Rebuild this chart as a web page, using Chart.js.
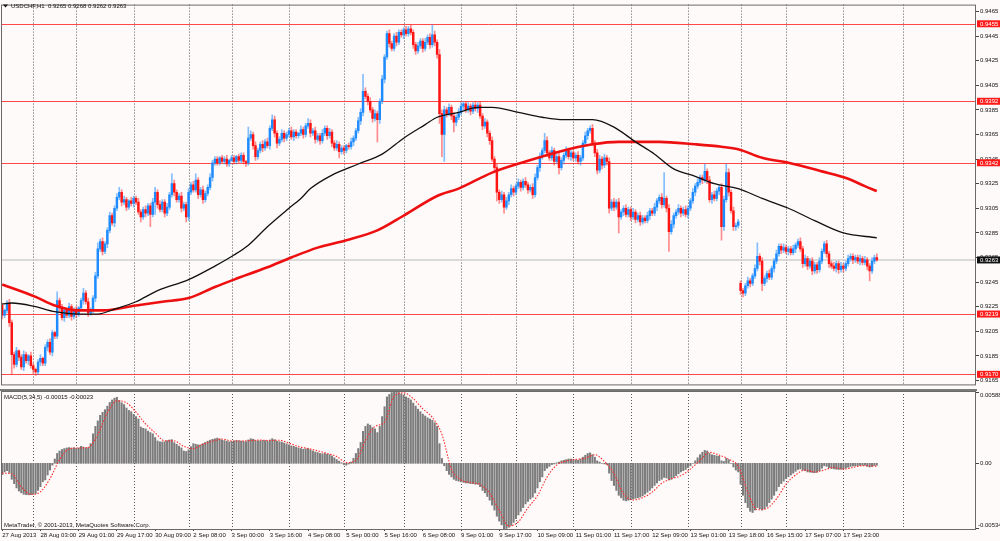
<!DOCTYPE html>
<html>
<head>
<meta charset="utf-8">
<title>USDCHF,H1</title>
<script src="https://cdn.jsdelivr.net/npm/chart.js@4.4.1/dist/chart.umd.min.js"></script>
<style>
  html, body { margin: 0; padding: 0; background: #fffafa; }
  #wrap { position: relative; width: 1000px; height: 541px; overflow: hidden; background: #fffafa; }
  canvas { position: absolute; left: 0; }
  #priceChart { top: 0; }
  #macdChart { top: 389px; }
</style>
</head>
<body>
<div id="wrap">
  <canvas id="priceChart" width="1000" height="389"></canvas>
  <canvas id="macdChart" width="1000" height="152"></canvas>
</div>
<script>
// USDCHF H1, 27 Aug - 18 Sep 2013, two moving averages, MACD(5,34,5) below

const SLOTS = 408;        // bar slots across the window (empty space on the right)
const LABEL_EVERY = 16;   // one time label every 16 bars

const tickLabels = [
	"27 Aug 2013", "28 Aug 03:00", "29 Aug 01:00", "29 Aug 17:00", "30 Aug 09:00",
	"2 Sep 08:00", "3 Sep 00:00", "3 Sep 16:00", "4 Sep 08:00", "5 Sep 00:00",
	"5 Sep 16:00", "6 Sep 08:00", "9 Sep 01:00", "9 Sep 17:00", "10 Sep 09:00",
	"11 Sep 01:00", "11 Sep 17:00", "12 Sep 09:00", "13 Sep 01:00", "13 Sep 18:00",
	"16 Sep 15:00", "17 Sep 07:00", "17 Sep 23:00"
];
// first bar of each day (dotted separators)
const dayStarts = [13, 31, 55, 78, 96, 120, 143, 168, 192, 215, 239, 263, 287, 309, 328, 352, 377];

const priceTicks = [0.9165, 0.9185, 0.9205, 0.9225, 0.9245, 0.9265, 0.9285, 0.9305,
	0.9325, 0.9345, 0.9365, 0.9385, 0.9405, 0.9425, 0.9445, 0.9465];
const levels = [0.9455, 0.9392, 0.9342, 0.9219, 0.9170];
const lastPrice = 0.9263;
const macdTicks = [0.00588, 0, -0.00534];

// prices in 1/10000
const closes = [
	9218,9222,9228,9212,9186,9178,9189,9184,9176,9186,
	9181,9185,9177,9174,9172,9180,9183,9179,9192,9196,
	9188,9204,9201,9230,9224,9216,9222,9218,9225,9217,
	9222,9219,9224,9230,9236,9229,9220,9222,9232,9250,
	9272,9278,9270,9276,9287,9299,9293,9305,9314,9318,
	9310,9312,9306,9311,9309,9313,9310,9302,9298,9304,
	9301,9307,9300,9310,9318,9308,9304,9310,9301,9306,
	9316,9325,9318,9312,9315,9305,9308,9298,9318,9324,
	9320,9328,9316,9320,9312,9317,9322,9330,9342,9345,
	9342,9346,9343,9345,9341,9344,9346,9343,9347,9344,
	9348,9343,9342,9362,9365,9356,9347,9352,9357,9354,
	9359,9356,9370,9377,9366,9358,9361,9366,9362,9365,
	9368,9363,9367,9364,9366,9369,9365,9372,9374,9366,
	9368,9361,9364,9360,9366,9370,9364,9367,9358,9354,
	9357,9351,9354,9352,9356,9355,9359,9362,9368,9376,
	9383,9400,9396,9392,9385,9378,9382,9377,9392,9410,
	9428,9447,9439,9435,9445,9440,9448,9446,9450,9447,
	9451,9448,9438,9433,9437,9441,9435,9440,9444,9438,
	9446,9440,9430,9382,9365,9385,9382,9387,9380,9375,
	9379,9383,9388,9390,9385,9388,9384,9389,9386,9389,
	9380,9372,9375,9366,9360,9345,9338,9318,9312,9316,
	9306,9311,9316,9321,9318,9323,9326,9322,9327,9324,
	9320,9322,9316,9330,9338,9347,9352,9360,9350,9346,
	9352,9343,9347,9338,9344,9348,9352,9347,9350,9346,
	9348,9343,9346,9358,9364,9368,9370,9358,9350,9336,
	9345,9340,9346,9343,9305,9310,9306,9310,9298,9302,
	9305,9300,9304,9298,9302,9296,9299,9294,9297,9295,
	9299,9303,9301,9306,9311,9314,9308,9313,9305,9286,
	9292,9299,9302,9305,9301,9304,9300,9305,9311,9318,
	9323,9326,9330,9328,9335,9328,9312,9316,9313,9319,
	9322,9290,9312,9334,9318,9303,9290,9291,9294,9238,
	9236,9242,9246,9244,9250,9256,9266,9262,9244,9248,
	9252,9249,9256,9262,9268,9274,9271,9273,9270,9272,
	9269,9272,9275,9278,9272,9260,9264,9258,9262,9254,
	9259,9255,9262,9270,9276,9268,9260,9258,9256,9260,
	9255,9258,9256,9260,9264,9266,9263,9265,9262,9264,
	9261,9263,9258,9254,9262,9265,9263
];
// shadow lengths above / below the body, in pips
const wickUp = [
	2,1,2,3,2,2,3,1,2,3, 2,1,3,2,1,2,3,1,2,2, 3,2,1,7,2,3,2,1,3,2, 2,3,1,2,4,2,3,2,2,3,
	5,2,3,2,2,3,2,2,3,4, 2,3,2,1,3,2,2,3,2,2, 3,2,2,3,4,2,3,2,2,3, 2,8,3,2,2,3,2,2,3,2,
	3,5,2,2,3,2,2,3,2,2, 2,1,2,2,3,1,2,2,1,2, 2,2,1,9,3,2,3,2,2,3, 2,3,2,4,3,2,2,3,2,2,
	2,3,2,2,1,3,2,2,4,3, 2,3,2,2,3,2,2,3,2,2, 3,2,2,2,1,2,3,2,2,3, 3,14,3,2,3,2,3,2,2,3,
	2,2,3,2,2,3,2,2,2,3, 2,3,2,2,3,2,2,3,2,3, 8,3,2,4,3,3,2,3,2,3, 2,3,3,2,2,3,2,2,3,2,
	3,2,3,2,2,3,2,3,2,3, 2,3,2,3,2,2,3,2,2,3, 2,2,3,3,2,3,2,6,3,2, 3,2,2,3,2,2,3,2,2,2,
	2,3,2,2,3,2,2,3,2,3, 3,2,3,2,3,2,3,2,3,2, 2,3,2,2,3,2,2,3,2,2, 3,2,2,3,2,2,3,21,2,3,
	3,2,2,3,2,2,3,2,2,3, 2,3,2,2,6,2,3,2,3,2, 2,3,3,7,3,2,3,2,2,2, 2,2,3,2,2,3,11,2,3,2,
	2,3,2,2,3,2,2,3,2,2, 2,3,2,2,3,2,3,2,2,3, 2,2,3,2,2,3,2,2,3,2, 2,3,2,2,3,2,2,2,2,3,
	2,3,2,2,3,2,3
];
const wickDown = [
	3,2,2,3,16,3,2,3,2,3, 2,3,2,3,3,2,3,2,2,3, 2,3,2,2,3,2,3,2,2,3, 2,3,2,2,3,2,3,2,2,3,
	2,2,3,2,3,2,2,3,2,2, 3,2,3,2,2,3,2,2,4,2, 3,2,10,2,10,3,2,2,3,2, 2,2,3,2,2,3,2,4,3,2,
	2,2,3,2,3,2,2,2,3,2, 2,2,1,2,2,2,1,2,2,2, 2,2,3,2,2,3,3,2,2,3, 2,2,3,2,3,4,2,2,3,2,
	2,2,3,2,2,2,3,2,2,3, 2,3,2,3,2,2,3,2,3,2, 2,5,2,3,2,2,2,3,2,2, 3,3,2,3,2,3,2,18,3,2,
	3,2,3,2,2,3,2,2,3,2, 2,2,3,3,2,2,3,2,2,3, 2,3,3,8,18,22,3,2,3,8, 3,2,2,3,2,2,3,2,2,3,
	2,3,2,3,3,2,3,7,3,2, 5,2,3,2,3,2,2,3,2,2, 3,2,3,2,2,3,2,2,3,2, 2,3,2,5,2,3,2,2,3,2,
	3,2,3,2,2,3,2,2,3,3, 2,3,2,3,4,2,3,2,13,2, 3,2,2,3,2,3,2,3,2,2, 2,3,2,2,3,2,3,2,3,16,
	2,3,2,2,3,2,2,3,2,2, 3,2,2,3,2,3,2,3,2,2, 3,11,3,2,3,2,3,3,2,3, 3,2,2,3,2,2,2,3,6,2,
	3,2,2,3,2,2,3,2,2,3, 2,2,3,2,2,3,2,3,2,3, 2,3,2,2,2,3,3,2,2,3, 3,2,3,2,2,2,3,2,2,3,
	2,2,3,8,2,2,1
];
// opens that differ from the previous close (first bar, Monday gap)
const sessionOpens = { 0: 9226, 309: 9244 };

// moving averages, read at a few bars
const maBlackBars = [0, 4, 14, 22, 32, 40, 47, 56, 65, 78, 89, 97, 103, 111, 120, 125, 129, 138, 149, 159,
	168, 177, 182, 191, 199, 205, 216, 226, 235, 247, 256, 265, 273, 281, 290, 298, 308, 318, 329, 340, 352, 366];
const maBlackVals = [9227, 9228, 9225, 9221, 9219, 9219, 9223, 9229, 9238, 9247, 9258, 9267, 9275, 9290, 9305, 9313, 9321, 9332, 9341, 9349,
	9362, 9373, 9379, 9383, 9387, 9387, 9383, 9379, 9377, 9377, 9371, 9359, 9349, 9337, 9331, 9325, 9321, 9313, 9305, 9295, 9285, 9281];
const maRedBars = [0, 14, 22, 32, 42, 56, 67, 78, 89, 97, 111, 121, 132, 144, 157, 168, 182, 191, 205, 219,
	233, 247, 258, 275, 290, 301, 308, 318, 329, 343, 354, 361, 366];
const maRedVals = [9243, 9233, 9226, 9222, 9222, 9226, 9229, 9232, 9241, 9247, 9257, 9265, 9273, 9279, 9287, 9299, 9315, 9321, 9334, 9343,
	9351, 9357, 9359, 9359, 9357, 9355, 9353, 9346, 9342, 9335, 9329, 9323, 9319];

// MACD main (histogram) in 1/100000
const macdHist = [
	-92,-70,-60,-75,-130,-165,-200,-225,-240,-252,
	-255,-256,-255,-252,-245,-220,-190,-150,-135,-95,
	-55,-15,35,80,100,112,120,125,128,124,
	126,122,125,138,132,124,128,160,240,300,
	345,390,415,436,465,495,515,530,537,510,
	492,478,450,430,420,398,380,360,295,285,
	280,262,250,240,210,182,175,174,176,184,
	190,192,168,155,140,125,100,96,110,135,
	160,155,150,150,160,170,180,188,195,200,
	205,198,190,185,180,175,178,182,186,184,
	180,178,176,190,200,196,185,182,184,186,
	185,180,190,200,192,180,176,172,165,158,
	150,142,138,130,125,120,115,118,120,110,
	100,92,88,80,78,80,74,70,60,45,
	30,18,5,-10,-15,-5,10,40,80,120,
	170,260,300,320,310,290,280,250,300,380,
	460,540,560,575,588,580,575,565,555,540,
	530,515,490,465,440,420,400,385,370,360,
	350,330,300,160,40,-20,-60,-90,-110,-130,
	-140,-145,-150,-155,-160,-160,-165,-165,-170,-170,
	-190,-220,-240,-270,-300,-340,-380,-430,-470,-500,
	-534,-530,-520,-505,-480,-450,-420,-390,-360,-330,
	-310,-290,-275,-240,-200,-150,-110,-60,-40,-25,
	-10,-5,5,10,20,25,30,35,35,30,
	28,25,35,50,65,80,85,70,50,20,
	10,0,-5,-10,-80,-140,-180,-220,-260,-280,
	-300,-305,-300,-295,-290,-285,-280,-275,-265,-250,
	-235,-220,-200,-180,-160,-140,-130,-115,-120,-135,
	-130,-115,-100,-85,-70,-60,-50,-35,-20,0,
	20,45,70,90,105,100,80,70,65,60,
	58,20,15,40,30,0,-30,-55,-70,-170,
	-260,-320,-360,-390,-400,-380,-360,-370,-380,-370,
	-350,-320,-290,-260,-225,-190,-165,-145,-125,-110,
	-95,-80,-65,-50,-45,-55,-60,-70,-72,-75,
	-76,-72,-60,-40,-20,-25,-35,-42,-45,-48,
	-50,-48,-45,-40,-32,-25,-22,-20,-18,-17,
	-16,-16,-25,-30,-26,-18,-15
];
// MACD signal, read every 4 bars
const signalBars = [0,4,8,12,16,20,24,28,32,36,40,44,48,52,56,60,64,68,72,76,80,84,88,92,96,
	100,104,108,112,116,120,124,128,132,136,140,144,148,152,156,160,164,168,172,176,180,184,188,192,196,
	200,204,208,212,216,220,224,228,232,236,240,244,248,252,256,260,264,268,272,276,280,284,288,292,296,
	300,304,308,312,316,320,324,328,332,336,340,344,348,352,356,360,364,366];
const signalVals = [-80,-85,-192,-252,-232,-125,29,117,125,129,235,410,508,493,416,320,248,183,182,138,120,155,179,198,182,
	182,185,189,185,188,164,137,120,102,80,56,6,22,186,300,334,545,573,526,443,373,236,-48,-135,-157,
	-172,-244,-384,-511,-475,-362,-263,-112,-15,18,32,41,70,15,-83,-248,-298,-279,-234,-162,-126,-100,-47,23,89,
	67,33,-25,-236,-378,-366,-289,-170,-95,-55,-71,-54,-33,-47,-33,-19,-22,-23];


Chart.defaults.font.family = "'Liberation Sans', Arial, sans-serif";
Chart.defaults.font.size = 6;
Chart.defaults.color = "#111";

let opens = closes.map((c, i) => sessionOpens[i] !== undefined ? sessionOpens[i] : closes[i - 1]);
let highs = closes.map((c, i) => Math.max(opens[i], c) + wickUp[i]);
let lows = closes.map((c, i) => Math.min(opens[i], c) - wickDown[i]);
let isUp = closes.map((c, i) => c >= opens[i]);

let slotLabels = [];
for (let i = 0; i < SLOTS; i++) slotLabels.push("");
tickLabels.forEach((t, k) => { slotLabels[k * LABEL_EVERY] = t; });

function sparse(bars, vals, unit) {
	let arr = closes.map(() => null);
	bars.forEach((b, k) => { arr[b] = vals[k] / unit; });
	return arr;
}

function drawDaySeparators(chart) {
	const { ctx, chartArea: a, scales: { x } } = chart;
	ctx.save();
	ctx.strokeStyle = "#555";
	ctx.lineWidth = 1;
	ctx.setLineDash([1, 2]);
	dayStarts.forEach(d => {
		let px = Math.round(x.getPixelForValue(d)) + 0.5;
		ctx.beginPath();
		ctx.moveTo(px, a.top);
		ctx.lineTo(px, a.bottom);
		ctx.stroke();
	});
	ctx.restore();
}

function drawFrame(chart) {
	const { ctx, chartArea: a } = chart;
	ctx.save();
	ctx.strokeStyle = "#6a6a6a";
	ctx.lineWidth = 1;
	ctx.strokeRect(a.left + 0.5, a.top + 0.5, a.right - a.left - 1, a.bottom - a.top);
	ctx.restore();
}

// --- price window ---
const pricePlugin = {
	id: "pricePaper",
	beforeDatasetsDraw(chart) {
		const { ctx, chartArea: a, scales: { y } } = chart;
		drawDaySeparators(chart);
		ctx.save();
		// last price line
		let py = y.getPixelForValue(lastPrice);
		ctx.strokeStyle = "#cfcfcf";
		ctx.lineWidth = 1.5;
		ctx.beginPath(); ctx.moveTo(a.left, py); ctx.lineTo(a.right, py); ctx.stroke();
		// horizontal levels
		ctx.strokeStyle = "rgba(255,40,40,0.85)";
		ctx.lineWidth = 1;
		levels.forEach(v => {
			let ly = Math.round(y.getPixelForValue(v)) + 0.5;
			ctx.beginPath(); ctx.moveTo(a.left, ly); ctx.lineTo(a.right, ly); ctx.stroke();
		});
		ctx.restore();
	},
	afterDraw(chart) {
		const { ctx, chartArea: a, scales: { y } } = chart;
		drawFrame(chart);
		ctx.save();
		ctx.font = "6px 'Liberation Sans', Arial";
		ctx.textBaseline = "middle";
		// price boxes on the axis
		let boxes = levels.map(v => ({ v: v, fill: "#ff1a1a" }));
		boxes.push({ v: lastPrice, fill: "#111" });
		boxes.forEach(b => {
			let by = y.getPixelForValue(b.v);
			ctx.fillStyle = b.fill;
			ctx.fillRect(a.right + 1, by - 3.5, 23, 7);
			ctx.fillStyle = "#fff";
			ctx.fillText(b.v.toFixed(4), a.right + 4, by + 0.5);
		});
		// header
		ctx.fillStyle = "#111";
		ctx.beginPath(); ctx.moveTo(3, 4.5); ctx.lineTo(8, 4.5); ctx.lineTo(5.5, 7.5); ctx.closePath(); ctx.fill();
		ctx.fillText("USDCHF,H1  0.9265 0.9268 0.9262 0.9263", 11, 6.5);
		ctx.restore();
	}
};

new Chart(document.getElementById("priceChart"), {
	type: "bar",
	data: {
		labels: slotLabels,
		datasets: [
			{
				type: "line",
				data: sparse(maBlackBars, maBlackVals, 10000),
				borderColor: "#111",
				borderWidth: 1.3,
				pointRadius: 0,
				spanGaps: true,
				cubicInterpolationMode: "monotone",
				order: 0
			},
			{
				type: "line",
				data: sparse(maRedBars, maRedVals, 10000),
				borderColor: "#ee1010",
				borderWidth: 2.6,
				pointRadius: 0,
				spanGaps: true,
				cubicInterpolationMode: "monotone",
				order: 0
			},
			{
				data: closes.map((c, i) => [opens[i] / 10000, c / 10000]),
				backgroundColor: isUp.map(u => u ? "#1e8cff" : "#ff1414"),
				barThickness: 1.8,
				minBarLength: 1,
				grouped: false,
				order: 1
			},
			{
				data: closes.map((c, i) => [lows[i] / 10000, highs[i] / 10000]),
				backgroundColor: isUp.map(u => u ? "rgba(30,140,255,0.55)" : "rgba(255,30,30,0.5)"),
				barThickness: 1,
				grouped: false,
				order: 2
			}
		]
	},
	options: {
		responsive: false,
		animation: false,
		events: [],
		layout: { padding: { left: 1, top: 1, right: 0, bottom: 2 } },
		plugins: { legend: { display: false }, tooltip: { enabled: false } },
		scales: {
			x: { type: "category", offset: true, display: false },
			y: {
				position: "right",
				min: 0.91618,
				max: 0.94706,
				afterBuildTicks: s => { s.ticks = priceTicks.map(v => ({ value: v })); },
				afterFit: s => { s.width = 24; },
				grid: { drawOnChartArea: false, drawTicks: true, tickLength: 3, color: "#444" },
				border: { display: false },
				ticks: { padding: 1, autoSkip: false, callback: v => v.toFixed(4) }
			}
		}
	},
	plugins: [pricePlugin]
});

// --- MACD window ---
const macdPlugin = {
	id: "macdPaper",
	beforeDatasetsDraw(chart) {
		drawDaySeparators(chart);
	},
	afterDraw(chart) {
		const { ctx, chartArea: a, scales: { y } } = chart;
		drawFrame(chart);
		ctx.save();
		// separator between the windows
		ctx.fillStyle = "#7a7a7a";
		ctx.fillRect(0, 0, a.right + 1, 2);
		ctx.font = "6px 'Liberation Sans', Arial";
		ctx.fillStyle = "#111";
		ctx.strokeStyle = "#444";
		ctx.lineWidth = 1;
		macdTicks.forEach(v => {
			let ty = y.getPixelForValue(v);
			let txt = v === 0 ? "0.00" : v.toFixed(5);
			if (v > 0) { ctx.textBaseline = "top"; ty = a.top + 1; }
			else if (v < 0) { ctx.textBaseline = "bottom"; ty = a.bottom - 1; }
			else { ctx.textBaseline = "middle"; }
			ctx.beginPath(); ctx.moveTo(a.right, Math.round(ty) + 0.5); ctx.lineTo(a.right + 3, Math.round(ty) + 0.5); ctx.stroke();
			ctx.fillText(txt, v < 0 ? a.right + 2 : a.right + 4, ty + 0.5);
		});
		ctx.textBaseline = "middle";
		ctx.fillText("MACD(5,34,5) -0.00015 -0.00023", 4, 8);
		ctx.fillText("MetaTrader, \u00a9 2001-2013, MetaQuotes Software Corp.", 4, 136);
		ctx.restore();
	}
};

new Chart(document.getElementById("macdChart"), {
	type: "bar",
	data: {
		labels: slotLabels,
		datasets: [
			{
				type: "line",
				data: sparse(signalBars, signalVals, 100000),
				borderColor: "#ff2a2a",
				borderWidth: 1.1,
				borderDash: [1.5, 1.5],
				pointRadius: 0,
				spanGaps: true,
				cubicInterpolationMode: "monotone",
				order: 0
			},
			{
				data: macdHist.map(v => v / 100000),
				backgroundColor: "#7c7c7c",
				barThickness: 1.4,
				grouped: false,
				order: 1
			}
		]
	},
	options: {
		responsive: false,
		animation: false,
		events: [],
		layout: { padding: { left: 1, top: 2, right: 24, bottom: 0 } },
		plugins: { legend: { display: false }, tooltip: { enabled: false } },
		scales: {
			x: {
				type: "category",
				offset: true,
				afterBuildTicks: s => { s.ticks = s.ticks.filter(t => slotLabels[t.value] !== ""); },
				afterFit: s => { s.height = 12; },
				grid: { drawOnChartArea: false, drawTicks: true, tickLength: 2, color: "#444", offset: false },
				border: { display: false },
				ticks: { autoSkip: false, maxRotation: 0, minRotation: 0, align: "start", padding: 1 }
			},
			y: { display: false, min: -0.00534, max: 0.00588 }
		}
	},
	plugins: [macdPlugin]
});
</script>
</body>
</html>
